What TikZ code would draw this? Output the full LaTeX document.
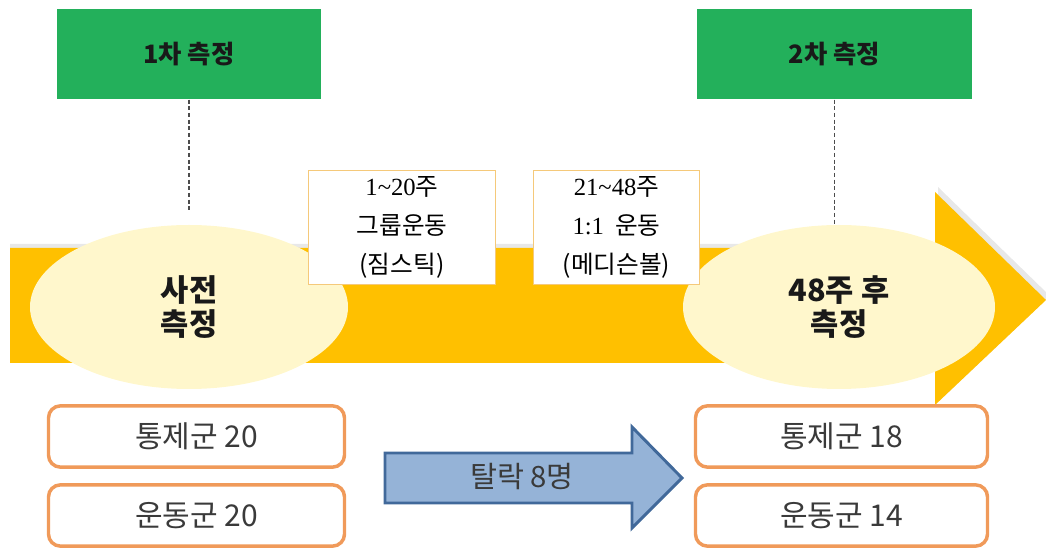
\documentclass[tikz,border=0pt]{standalone}
\usepackage{fontspec}
\setmainfont{Noto Sans CJK KR}
\newfontfamily\srf{Liberation Serif}
\usetikzlibrary{shapes.geometric}
\definecolor{grn}{HTML}{23B05B}
\definecolor{ylw}{HTML}{FFC000}
\definecolor{cream}{HTML}{FFF7CC}
\definecolor{orng}{HTML}{F09A5A}
\definecolor{lorng}{HTML}{F5C97A}
\definecolor{bfill}{HTML}{95B3D7}
\definecolor{bdraw}{HTML}{41699A}
\definecolor{txt}{HTML}{3A3A3A}
\tikzset{
  greenbox/.style={fill=grn, draw=none, minimum width=#1, minimum height=68pt, inner sep=0pt,
    font=\fontsize{19}{22}\selectfont\bfseries, text=black!90},
  ell/.style={ellipse, fill=cream, draw=none, minimum height=123pt, inner sep=0pt, align=center,
    font=\fontsize{23}{25.5}\selectfont\bfseries, text=black!90},
  weekbox/.style={fill=white, draw=lorng, line width=0.8pt, minimum height=86pt, inner sep=0pt,
    align=center, font=\fontsize{18.5}{29}\selectfont, text=black},
  groupbox/.style={fill=white, draw=orng, line width=2.6pt, rounded corners=9pt,
    minimum height=46pt, inner sep=0pt, font=\fontsize{22.5}{26}\selectfont, text=txt},
  dashline/.style={draw=black!70, dashed, dash pattern=on 3pt off 2pt, line width=0.9pt}
}
\begin{document}
\begin{tikzpicture}[x=0.75pt, y=-0.75pt]
\useasboundingbox (0,0) rectangle (1046,548);
% big yellow arrow with soft shadow
\fill[black!30, opacity=0.3] (10,244) -- (938,244) -- (938,187) -- (1050,296) -- (938,402) -- (938,359) -- (10,359) -- cycle;
\fill[ylw] (10,248) -- (935,248) -- (935,192) -- (1046,300) -- (935,405) -- (935,363) -- (10,363) -- cycle;
% green measurement boxes
\node[greenbox=198pt] (g1) at (189,54) {1차 측정};
\node[greenbox=206pt] (g2) at (834.5,54) {2차 측정};
% ellipses
\node[ell, minimum width=238.5pt] (e1) at (189,307) {사전\\측정};
\node[ell, minimum width=234pt] (e2) at (839,307) {48주 후\\측정};
% dashed connectors
\coordinate (d1) at (189,212);
\coordinate (d2) at (834.5,225);
\draw[dashline] (g1.south) -- (d1);
\draw[dashline] (g2.south) -- (d2);
% week boxes
\node[weekbox, minimum width=140pt] (w1) at (402,227.5) {{\srf 1\textasciitilde 20}주\\그룹운동\\(짐스틱)};
\node[weekbox, minimum width=125pt] (w2) at (616.5,227.5) {{\srf 21\textasciitilde 48}주\\{\srf 1:1}\ \ 운동\\(메디슨볼)};
% group boxes
\node[groupbox, minimum width=222pt] (c1) at (196.5,436.5) {통제군 20};
\node[groupbox, minimum width=222pt] (x1) at (196.5,515.5) {운동군 20};
\node[groupbox, minimum width=219pt] (c2) at (841.5,436.5) {통제군 18};
\node[groupbox, minimum width=219pt] (x2) at (841.5,515.5) {운동군 14};
% drop-out arrow
\draw[fill=bfill, draw=bdraw, line width=2.2pt, line join=miter]
  (385,453) -- (632,453) -- (632,427) -- (682,478) -- (632,528) -- (632,503) -- (385,503) -- cycle;
\node[font=\fontsize{22}{26}\selectfont, text=txt] (drop) at (522,477) {탈락 8명};
\end{tikzpicture}
\end{document}
